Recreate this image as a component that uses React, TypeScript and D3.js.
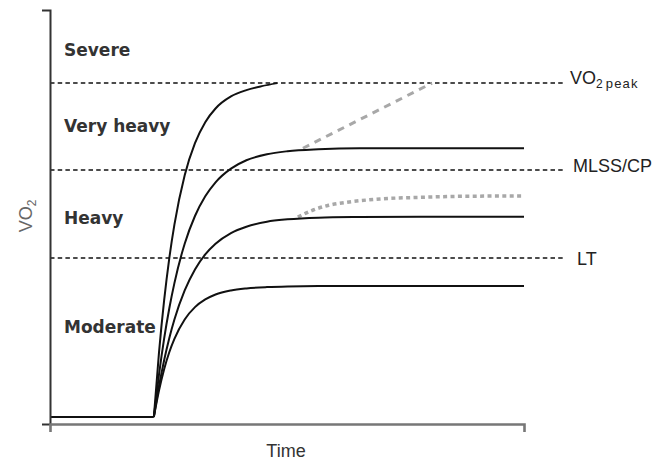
import { useEffect, useRef } from "react"
import * as d3 from "d3"

// time relative to exercise onset (arbitrary units), VO2 as % of peak
const baselineTimes = [-101, 0]
const baselineVO2 = [0, 0]

const severeTimes = [0, 5, 10, 15, 20, 30, 40, 50, 60, 75, 90, 105, 120]
const severeVO2 = [0, 19.3, 34.9, 47.5, 57.6, 72.4, 82.0, 88.3, 92.4, 96.0, 97.9, 99.1, 100]

const sampleTimes = [0, 5, 10, 15, 20, 30, 40, 50, 60, 75, 90, 110, 130, 160, 200, 260, 360]
const veryHeavyVO2 = [0, 12.7, 23.5, 32.5, 40.1, 51.9, 60.2, 66.1, 70.3, 74.4, 76.9, 78.7, 79.6, 80.2, 80.5, 80.5, 80.5]
const heavyVO2 = [0, 9.2, 17.0, 23.6, 29.2, 37.9, 44.2, 48.7, 51.9, 55.1, 57.0, 58.5, 59.2, 59.7, 59.9, 60, 60]
const moderateVO2 = [0, 7.9, 14.3, 19.4, 23.4, 29.2, 32.9, 35.2, 36.7, 37.9, 38.5, 38.9, 39.1, 39.2, 39.2, 39.2, 39.2]

// slow components (grey)
const veryHeavySlowTimes = [145, 270.5]
const veryHeavySlowVO2 = [80.5, 100]
const heavySlowTimes = [140, 155, 170, 190, 220, 260, 300, 360]
const heavySlowVO2 = [59.9, 62.0, 63.4, 64.4, 65.3, 65.8, 66.1, 66.2]

// thresholds
const thresholdNames = ["VO2peak", "MLSS/CP", "LT"]
const thresholdVO2 = [100, 74.0, 47.6]
const thresholdEnd = 398

const domainNames = ["Severe", "Very heavy", "Heavy", "Moderate"]

export default function App() {
  const svgRef = useRef(null)

  useEffect(() => {
    if (!svgRef.current) return
    const svg = d3.select(svgRef.current)
    svg.selectAll("*").remove()

    const width = 656
    const height = 462

    const x = d3.scaleLinear().domain([-101, 360]).range([50, 524])
    const y = d3.scaleLinear().domain([-2.1, 121.9]).range([424, 10])

    const line = d3
      .line<[number, number]>()
      .x((d) => x(d[0]))
      .y((d) => y(d[1]))
      .curve(d3.curveMonotoneX)

    const zip = (ts: number[], vs: number[]) => ts.map((t, i) => [t, vs[i]] as [number, number])

    // threshold lines
    thresholdVO2.forEach((v) => {
      svg
        .append("line")
        .attr("x1", x(-101))
        .attr("x2", x(thresholdEnd))
        .attr("y1", y(v))
        .attr("y2", y(v))
        .attr("stroke", "#111")
        .attr("stroke-width", 1.5)
        .attr("stroke-dasharray", "4.5,3.2")
    })

    // slow components
    svg
      .append("path")
      .attr("d", line(zip(veryHeavySlowTimes, veryHeavySlowVO2)))
      .attr("fill", "none")
      .attr("stroke", "#a8a8a8")
      .attr("stroke-width", 3)
      .attr("stroke-dasharray", "7,6")
    svg
      .append("path")
      .attr("d", line(zip(heavySlowTimes, heavySlowVO2)))
      .attr("fill", "none")
      .attr("stroke", "#a8a8a8")
      .attr("stroke-width", 3.5)
      .attr("stroke-dasharray", "4,3.4")

    // responses
    const curves = [
      zip(baselineTimes, baselineVO2),
      zip(severeTimes, severeVO2),
      zip(sampleTimes, veryHeavyVO2),
      zip(sampleTimes, heavyVO2),
      zip(sampleTimes, moderateVO2),
    ]
    curves.forEach((c) => {
      svg
        .append("path")
        .attr("d", line(c))
        .attr("fill", "none")
        .attr("stroke", "#111")
        .attr("stroke-width", 2)
    })

    // axes
    const yAxis = svg
      .append("g")
      .attr("transform", `translate(${x(-101)},0)`)
      .call(d3.axisLeft(y).tickValues([]).tickSizeOuter(8))
    yAxis.select(".domain").attr("stroke", "#333").attr("stroke-width", 2)

    const xAxis = svg
      .append("g")
      .attr("transform", `translate(0,${y(-2.1)})`)
      .call(d3.axisBottom(x).tickValues([]).tickSizeOuter(8))
    xAxis.select(".domain").attr("stroke", "#777").attr("stroke-width", 2.6)

    // domain labels
    const labelY = [56, 132, 224, 333]
    domainNames.forEach((name, i) => {
      svg
        .append("text")
        .attr("x", 64)
        .attr("y", labelY[i])
        .attr("font-family", "DejaVu Sans")
        .attr("font-weight", "bold")
        .attr("font-size", "17px")
        .attr("fill", "#333")
        .text(name)
    })

    // threshold labels
    const peak = svg
      .append("text")
      .attr("x", 570)
      .attr("y", y(thresholdVO2[0]) + 1)
      .attr("font-family", "Liberation Sans")
      .attr("font-size", "18px")
      .attr("fill", "#222")
    peak.append("tspan").text("VO")
    peak.append("tspan").attr("font-size", "12px").attr("dy", 4).text("2")
    peak
      .append("tspan")
      .attr("font-size", "13px")
      .attr("dx", 3)
      .attr("letter-spacing", 1.2)
      .text("peak")

    svg
      .append("text")
      .attr("x", 573)
      .attr("y", y(thresholdVO2[1]) + 2)
      .attr("font-family", "Liberation Sans")
      .attr("font-size", "18px")
      .attr("fill", "#222")
      .text(thresholdNames[1])

    svg
      .append("text")
      .attr("x", 577)
      .attr("y", y(thresholdVO2[2]) + 7)
      .attr("font-family", "Liberation Sans")
      .attr("font-size", "18px")
      .attr("fill", "#222")
      .text(thresholdNames[2])

    // axis titles
    svg
      .append("text")
      .attr("x", 286)
      .attr("y", 457)
      .attr("text-anchor", "middle")
      .attr("font-family", "Liberation Sans")
      .attr("font-size", "18px")
      .attr("fill", "#333")
      .text("Time")

    const yl = svg
      .append("text")
      .attr("transform", "translate(32,216) rotate(-90)")
      .attr("text-anchor", "middle")
      .attr("font-family", "Liberation Sans")
      .attr("font-size", "18px")
      .attr("fill", "#666")
    yl.append("tspan").text("VO")
    yl.append("tspan").attr("font-size", "12px").attr("dy", 4).text("2")

    svg.attr("width", width).attr("height", height).attr("viewBox", [0, 0, width, height])
  }, [])

  return (
    <svg
      ref={svgRef}
      style={{ position: "absolute", left: 0, top: 0, background: "#fff" }}
    ></svg>
  )
}
